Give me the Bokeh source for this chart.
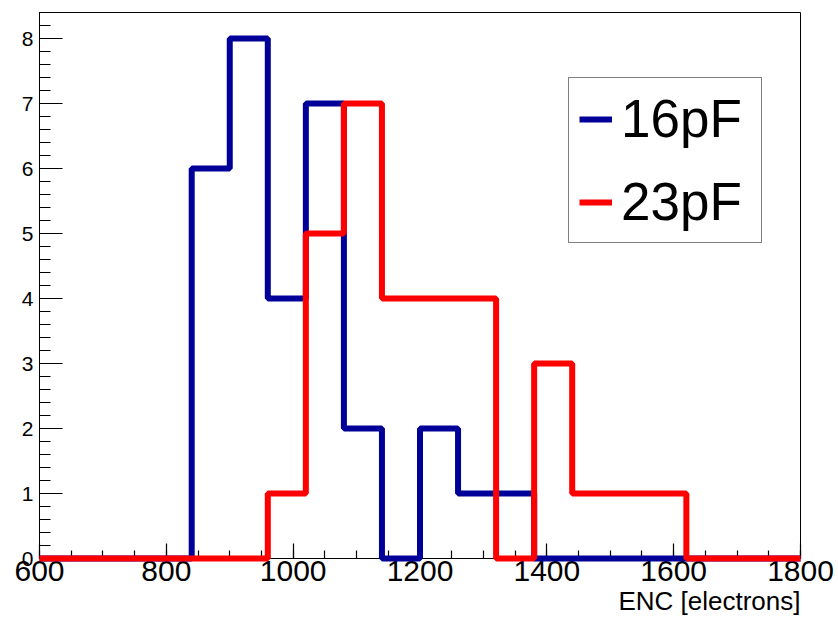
from bokeh.plotting import figure
from bokeh.models import FixedTicker, Legend, LegendItem, Range1d, Title
from bokeh.embed import file_html
from bokeh.resources import INLINE

# Histogram data (bin width 60, range 600-1800)
bin_edges = [600, 660, 720, 780, 840, 900, 960, 1020, 1080, 1140, 1200,
             1260, 1320, 1380, 1440, 1500, 1560, 1620, 1680, 1740, 1800]
counts_16pF = [0, 0, 0, 0, 6, 8, 4, 7, 2, 0, 2, 1, 1, 0, 0, 0, 0, 0, 0, 0]
counts_23pF = [0, 0, 0, 0, 0, 0, 1, 5, 7, 4, 4, 4, 0, 3, 1, 1, 1, 0, 0, 0]
series_names = ["16pF", "23pF"]
series_colors = ["#000099", "#ff0000"]

x_major = [600, 800, 1000, 1200, 1400, 1600, 1800]
x_minor = [v for v in range(600, 1801, 50)]
y_major = [0, 1, 2, 3, 4, 5, 6, 7, 8]
y_minor = [i / 5 for i in range(0, 43)]
x_title = "ENC [electrons]"

FONT = "Liberation Sans"

p = figure(width=838, height=622, output_backend="svg", toolbar_location=None,
           x_range=Range1d(600, 1800), y_range=Range1d(0, 8.4),
           min_border_left=39, min_border_right=38, min_border_top=12,
           min_border_bottom=64)
p.grid.visible = False
p.outline_line_color = "black"
p.outline_line_width = 1
p.background_fill_color = "white"
p.border_fill_color = "white"

# axes
p.xaxis.ticker = FixedTicker(ticks=x_major, minor_ticks=x_minor)
p.yaxis.ticker = FixedTicker(ticks=y_major, minor_ticks=y_minor)
for ax in (p.xaxis[0], p.yaxis[0]):
    ax.major_tick_out = 0
    ax.minor_tick_out = 0
    ax.axis_line_color = "black"
    ax.major_tick_line_color = "black"
    ax.minor_tick_line_color = "black"
    ax.major_tick_line_width = 1.2
    ax.minor_tick_line_width = 1.2
    ax.major_label_text_font = FONT
    ax.major_label_text_color = "black"
p.xaxis.major_tick_in = 15
p.xaxis.minor_tick_in = 8
p.yaxis.major_tick_in = 23
p.yaxis.minor_tick_in = 11
p.xaxis.major_label_text_font_size = "30px"
p.yaxis.major_label_text_font_size = "21px"
p.xaxis.major_label_standoff = 2
p.yaxis.major_label_standoff = 6

renderers = []
for counts, color in zip([counts_16pF, counts_23pF], series_colors):
    ys = counts + [counts[-1]]
    r = p.step(x=bin_edges, y=ys, mode="after", line_color=color, line_width=6,
               level="overlay")
    renderers.append(r)

legend = Legend(items=[LegendItem(label=n, renderers=[r]) for n, r in zip(series_names, renderers)],
                location=(529, 315), orientation="vertical",
                label_text_font=FONT, label_text_font_size="53px",
                label_text_color="black",
                glyph_width=33, glyph_height=40, label_standoff=9,
                label_width=130, label_height=60,
                spacing=22, padding=10, margin=0,
                border_line_color="black", border_line_width=1,
                background_fill_color="white", background_fill_alpha=1)
p.add_layout(legend)

xtitle = Title(text=x_title, align="right", text_font=FONT, text_font_size="26px",
               text_font_style="normal", text_color="black", standoff=0, offset=0)
p.add_layout(xtitle, "below")

open("out.html", "w").write(file_html(p, INLINE))
